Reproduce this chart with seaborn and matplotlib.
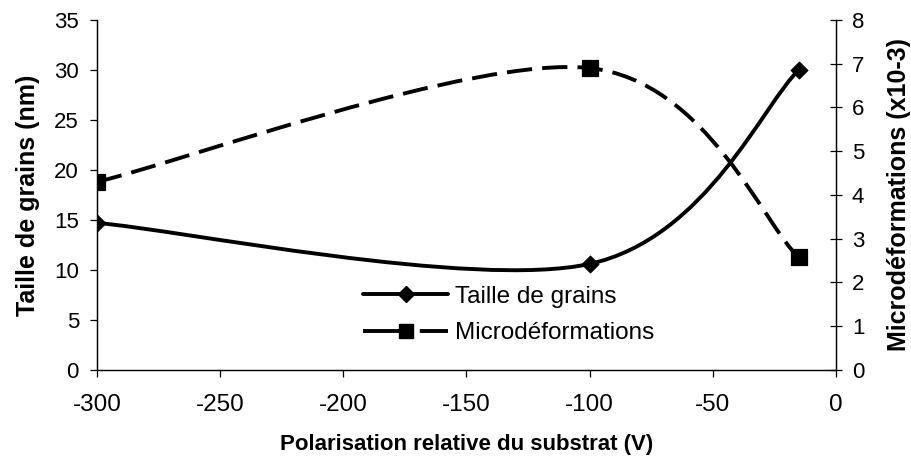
import numpy as np
import matplotlib
matplotlib.use("Agg")
import matplotlib.pyplot as plt
from matplotlib.path import Path
from matplotlib.patches import PathPatch
from matplotlib.lines import Line2D
import seaborn as sns

# Data
bias_v = [-300, -100, -15]
grain_size_nm = [14.7, 10.6, 30.0]
microstrain_e3 = [4.3, 6.9, 2.57]

sns.set_theme(style="white")
plt.rcParams["font.family"] = ["Liberation Sans", "DejaVu Sans"]
plt.rcParams["axes.unicode_minus"] = False
plt.rcParams["text.color"] = "black"
plt.rcParams["axes.labelcolor"] = "black"


def smooth_path(xs, ys):
    """Cubic Bezier path through the points (Catmull-Rom style tangents)."""
    pts = np.column_stack([xs, ys]).astype(float)
    n = len(pts)
    verts = [pts[0]]
    codes = [Path.MOVETO]
    for i in range(n - 1):
        p0 = pts[i - 1] if i > 0 else pts[i]
        p1 = pts[i]
        p2 = pts[i + 1]
        p3 = pts[i + 2] if i + 2 < n else pts[i + 1]
        c1 = p1 + (p2 - p0) / 6.0
        c2 = p2 - (p3 - p1) / 6.0
        verts += [c1, c2, p2]
        codes += [Path.CURVE4] * 3
    return Path(verts, codes)


fig = plt.figure(figsize=(9.11, 4.63), dpi=100)
ax = fig.add_axes([0.1065, 0.201, 0.811, 0.756])
ax2 = ax.twinx()

lw = 2.8
dash = (0, (6.5, 2.6))

# Grain size (left axis), solid smoothed curve
ax.add_patch(PathPatch(smooth_path(bias_v, grain_size_nm), fill=False,
                       edgecolor="black", linewidth=lw, capstyle="butt",
                       joinstyle="round", zorder=3))
sns.scatterplot(x=bias_v, y=grain_size_nm, ax=ax, marker="D", s=75,
                color="black", edgecolor="black", zorder=4, legend=False)

# Microstrain (right axis), dashed smoothed curve
ax2.add_patch(PathPatch(smooth_path(bias_v, microstrain_e3), fill=False,
                        edgecolor="black", linewidth=lw, linestyle=dash,
                        capstyle="butt", zorder=3))
sns.scatterplot(x=bias_v, y=microstrain_e3, ax=ax2, marker="s", s=120,
                color="black", edgecolor="black", zorder=4, legend=False)

ax.set_xlim(-300, 0)
ax.set_ylim(0, 35)
ax2.set_ylim(0, 8)
ax.set_xticks(np.arange(-300, 1, 50))
ax.set_yticks(np.arange(0, 36, 5))
ax2.set_yticks(np.arange(0, 9, 1))

for a in (ax, ax2):
    for s in a.spines.values():
        s.set_color("black")
        s.set_linewidth(0.9)
    a.spines["top"].set_visible(False)
    a.grid(False)
    a.set_facecolor("none")

ax.tick_params(axis="x", direction="out", length=5, width=0.9, labelsize=17.5,
               pad=12, colors="black", bottom=True)
ax.tick_params(axis="y", direction="out", length=5, width=0.9, labelsize=16,
               pad=8, colors="black", left=True)
ax2.tick_params(axis="y", direction="inout", length=9, width=0.9,
                labelsize=16, pad=7, colors="black", right=True)

ax.set_xlabel("Polarisation relative du substrat (V)", fontsize=16,
              fontweight="bold", labelpad=13)
ax.set_ylabel("Taille de grains (nm)", fontsize=18, fontweight="bold",
              labelpad=10)
ax2.set_ylabel("Microdéformations (x10-3)", fontsize=18, fontweight="bold",
               labelpad=16)

handles = [
    Line2D([], [], color="black", linewidth=lw, marker="D", markersize=8),
    Line2D([], [], color="black", linewidth=lw, linestyle=(0, (12, 2.6)),
           marker="s", markersize=10),
]
ax2.legend(handles, ["Taille de grains", "Microdéformations"], loc="upper left",
           bbox_to_anchor=(0.36, 0.24), frameon=False, fontsize=17.5,
           handlelength=3.5, handletextpad=0.3, labelspacing=0.58,
           borderpad=0.0, borderaxespad=0.0)

fig.savefig("out.png", dpi=100)
